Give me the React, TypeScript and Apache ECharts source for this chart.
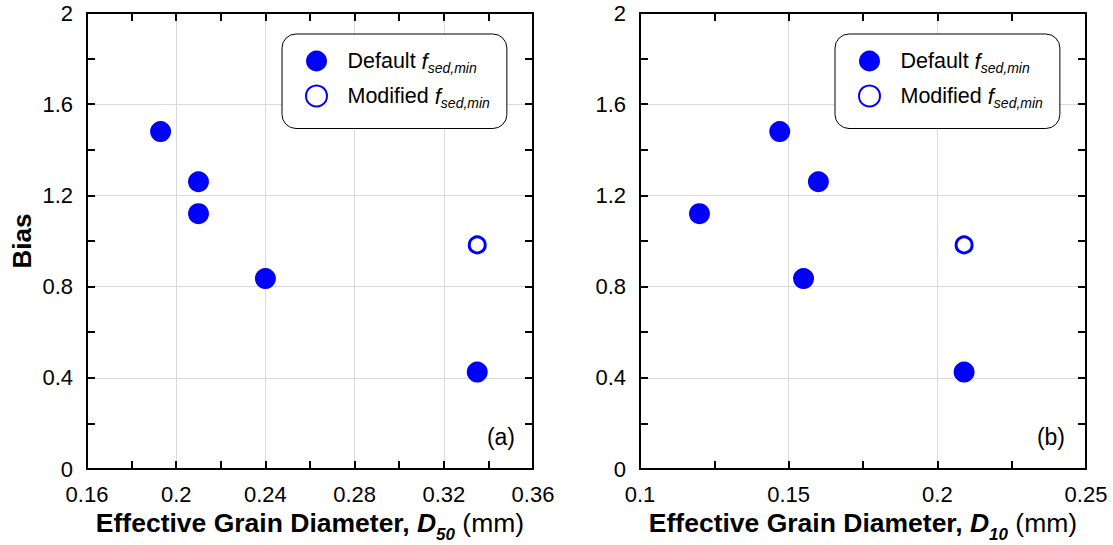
import React, { useEffect, useRef } from "react";
import * as echarts from "echarts";

// ---- data ----
const biasDefault = [1.48, 1.26, 1.12, 0.835, 0.425];
const d50Default = [0.193, 0.21, 0.21, 0.24, 0.335];
const d10Default = [0.147, 0.16, 0.12, 0.155, 0.209];
const biasModified = [0.983];
const d50Modified = [0.335];
const d10Modified = [0.209];

const panelLabels = ["(a)", "(b)"];
const xRanges = [
  { min: 0.16, max: 0.36, interval: 0.04, sub: "50" },
  { min: 0.1, max: 0.25, interval: 0.05, sub: "10" },
];
const yRange = { min: 0, max: 2, interval: 0.4 };

const BLUE = "#0000ff";
const FONT = "Liberation Sans, Arial, sans-serif";

function pairs(xs: number[], ys: number[]) {
  return xs.map((x, i) => [x, ys[i]]);
}

export default function App() {
  const ref = useRef<HTMLDivElement>(null);
  useEffect(() => {
    if (!ref.current) return;
    const chart = echarts.init(ref.current, undefined, { renderer: "svg" });

    const grids = [
      { left: 87, right: 580, top: 13, bottom: 76, outerBoundsMode: "none", containLabel: false },
      { left: 640, right: 27, top: 13, bottom: 76, outerBoundsMode: "none", containLabel: false },
    ];

    const tickCommon = {
      axisTick: { show: true, inside: true, length: 8, lineStyle: { color: "#000", width: 2 } },
      minorTick: { show: true, splitNumber: 2, length: 8, lineStyle: { color: "#000", width: 2 } },
      axisLine: { show: true, onZero: false, lineStyle: { color: "#000", width: 2 } },
    };

    const xAxes: any[] = [];
    const yAxes: any[] = [];
    xRanges.forEach((r, gi) => {
      xAxes.push({
        type: "value",
        gridIndex: gi,
        position: "bottom",
        min: r.min,
        max: r.max,
        interval: r.interval,
        ...tickCommon,
        splitLine: { show: true, lineStyle: { color: "#d9d9d9", width: 1 } },
        axisLabel: { color: "#000", fontSize: 22, fontFamily: FONT, margin: 14 },
        name: `{b|Effective Grain Diameter, }{d|D}{s|${r.sub}}{n| (mm)}`,
        nameLocation: "middle",
        nameGap: 34,
        nameTextStyle: {
          color: "#000",
          fontFamily: FONT,
          rich: {
            b: { fontSize: 26.5, fontWeight: "bold", fontFamily: FONT, color: "#000" },
            d: { fontSize: 26.5, fontWeight: "bold", fontStyle: "italic", fontFamily: FONT, color: "#000" },
            s: {
              fontSize: 17,
              fontWeight: "bold",
              fontStyle: "italic",
              fontFamily: FONT,
              color: "#000",
              verticalAlign: "bottom",
              lineHeight: 40,
            },
            n: { fontSize: 26.5, fontFamily: FONT, color: "#000" },
          },
        },
      });
      xAxes.push({
        type: "value",
        gridIndex: gi,
        position: "top",
        min: r.min,
        max: r.max,
        interval: r.interval,
        ...tickCommon,
        splitLine: { show: false },
        axisLabel: { show: false },
      });
      yAxes.push({
        type: "value",
        gridIndex: gi,
        position: "left",
        min: yRange.min,
        max: yRange.max,
        interval: yRange.interval,
        ...tickCommon,
        splitLine: { show: true, lineStyle: { color: "#d9d9d9", width: 1 } },
        axisLabel: { color: "#000", fontSize: 22, fontFamily: FONT, margin: 14 },
        name: gi === 0 ? "Bias" : "",
        nameLocation: "middle",
        nameGap: 52,
        nameTextStyle: { color: "#000", fontSize: 26, fontWeight: "bold", fontFamily: FONT },
      });
      yAxes.push({
        type: "value",
        gridIndex: gi,
        position: "right",
        min: yRange.min,
        max: yRange.max,
        interval: yRange.interval,
        ...tickCommon,
        splitLine: { show: false },
        axisLabel: { show: false },
      });
    });

    const xDefault = [d50Default, d10Default];
    const xModified = [d50Modified, d10Modified];
    const series: any[] = [];
    [0, 1].forEach((gi) => {
      series.push({
        type: "scatter",
        name: "Default",
        xAxisIndex: gi * 2,
        yAxisIndex: gi * 2,
        symbol: "circle",
        symbolSize: 21,
        itemStyle: { color: BLUE, opacity: 1 },
        data: pairs(xDefault[gi], biasDefault),
        z: 5,
      });
      series.push({
        type: "scatter",
        name: "Modified",
        xAxisIndex: gi * 2,
        yAxisIndex: gi * 2,
        symbol: "circle",
        symbolSize: 16,
        itemStyle: { color: "#fff", borderColor: BLUE, borderWidth: 3, opacity: 1 },
        data: pairs(xModified[gi], biasModified),
        z: 5,
      });
    });

    const legendRich = {
      f: { fontSize: 22, fontStyle: "italic", fontFamily: FONT, color: "#000" },
      s: {
        fontSize: 14,
        fontStyle: "italic",
        fontFamily: FONT,
        color: "#000",
        verticalAlign: "bottom",
        lineHeight: 27,
      },
    };
    const legendLefts = [282, 835];
    const legends = legendLefts.map((l) => ({
      show: true,
      orient: "vertical",
      left: l,
      top: 34,
      data: ["Default", "Modified"],
      icon: "circle",
      itemWidth: 52,
      itemHeight: 21,
      itemGap: 10,
      padding: [16, 17, 19, 23],
      borderColor: "#000",
      borderWidth: 1,
      borderRadius: 14,
      backgroundColor: "#fff",
      selectedMode: false,
      textStyle: { fontSize: 21.5, fontFamily: FONT, color: "#000", rich: legendRich },
      formatter: (name: string) => `${name} {f|f}{s|sed,min}`,
    }));

    chart.setOption({
      animation: false,
      backgroundColor: "#fff",
      grid: grids,
      xAxis: xAxes,
      yAxis: yAxes,
      legend: legends,
      series,
      graphic: [
        { type: "text", right: 598, top: 425, style: { text: panelLabels[0], fontSize: 23, fontFamily: FONT, fill: "#000" } },
        { type: "text", right: 48, top: 425, style: { text: panelLabels[1], fontSize: 23, fontFamily: FONT, fill: "#000" } },
      ],
    });
    return () => chart.dispose();
  }, []);

  return <div ref={ref} style={{ width: 1113, height: 545, position: "absolute", left: 0, top: 0 }} />;
}
